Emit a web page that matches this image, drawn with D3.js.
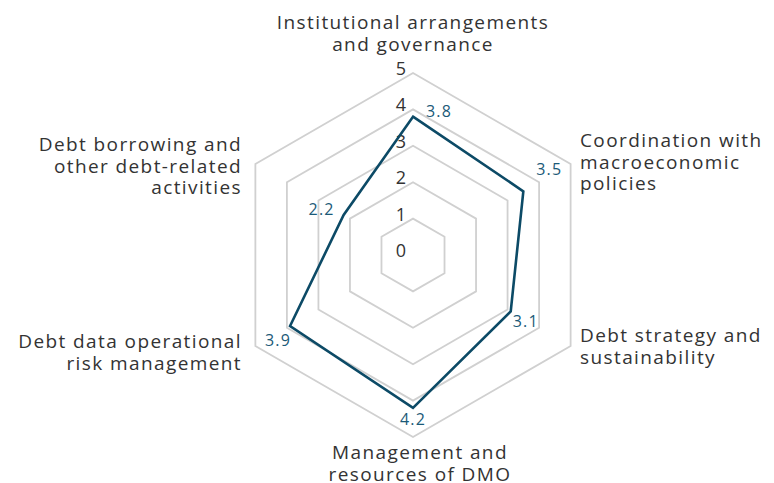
<!DOCTYPE html>
<html>
<head>
<meta charset="utf-8">
<script src="https://cdn.jsdelivr.net/npm/d3@7"></script>
<style>
  body { margin: 0; background: #fff; }
  text { font-family: "Open Sans", sans-serif; }
</style>
</head>
<body>
<div id="radar"></div>
<script>
// chart data
var axes = [
  ["Institutional arrangements", "and governance"],
  ["Coordination with", "macroeconomic", "policies"],
  ["Debt strategy and", "sustainability"],
  ["Management and", "resources of DMO"],
  ["Debt data operational", "risk management"],
  ["Debt borrowing and", "other debt-related", "activities"]
];
var scores = [3.8, 3.5, 3.1, 4.2, 3.9, 2.2];
var levels = [1, 2, 3, 4, 5];
var levelLabels = [0, 1, 2, 3, 4, 5];

// layout
var width = 774, height = 483;
var cx = 413, cy = 255;
var maxR = 182;

var svg = d3
  .select("#radar")
  .append("svg")
  .attr("width", width)
  .attr("height", height);

var g = svg.append("g").attr("transform", "translate(" + cx + "," + cy + ")");

var r = d3.scaleLinear().domain([0, 5]).range([0, maxR]);
var angle = d3
  .scaleLinear()
  .domain([0, axes.length])
  .range([0, 2 * Math.PI]);

function pt(i, v) {
  var a = angle(i);
  return [r(v) * Math.sin(a), -r(v) * Math.cos(a)];
}

// grid hexagons
var line = d3.line().curve(d3.curveLinearClosed);
g.selectAll(".grid")
  .data(levels)
  .enter()
  .append("path")
  .attr("class", "grid")
  .attr("d", function (lv) {
    return line(axes.map(function (a, i) { return pt(i, lv); }));
  })
  .attr("fill", "none")
  .attr("stroke", "#d0d0d0")
  .attr("stroke-width", 1.8);

// level labels on top spoke
g.selectAll(".lvl")
  .data(levelLabels)
  .enter()
  .append("text")
  .attr("class", "lvl")
  .attr("x", -12)
  .attr("y", function (d) { return -r(d) + 2; })
  .attr("text-anchor", "middle")
  .attr("font-size", 18)
  .attr("fill", "#333")
  .text(function (d) { return d; });

// data polygon
g.append("path")
  .attr("d", line(scores.map(function (v, i) { return pt(i, v); })))
  .attr("fill", "none")
  .attr("stroke", "#0c4a66")
  .attr("stroke-width", 2.6)
  .attr("stroke-linejoin", "miter");

// value labels, nudged off the vertex
var valueNudge = [[26, 0], [26, -16], [15, 16], [0, 17], [-12, 20], [-22, 0]];
g.selectAll(".val")
  .data(scores)
  .enter()
  .append("text")
  .attr("class", "val")
  .attr("x", function (d, i) { return pt(i, d)[0] + valueNudge[i][0]; })
  .attr("y", function (d, i) { return pt(i, d)[1] + valueNudge[i][1]; })
  .attr("text-anchor", "middle")
  .attr("font-size", 16)
  .attr("letter-spacing", 1.2)
  .attr("fill", "#1b5a78")
  .text(function (d) { return d.toFixed(1); });

// axis labels
var labelPos = [
  { x: 0, y: -226, anchor: "middle" },
  { x: 167, y: -108, anchor: "start" },
  { x: 167, y: 87, anchor: "start" },
  { x: 7, y: 204, anchor: "middle" },
  { x: -171, y: 93, anchor: "end" },
  { x: -171, y: -104, anchor: "end" }
];
var lineH = 21.5;
axes.forEach(function (lines, i) {
  var t = g.append("text")
    .attr("x", labelPos[i].x)
    .attr("y", labelPos[i].y)
    .attr("text-anchor", labelPos[i].anchor)
    .attr("font-size", 19)
    .attr("letter-spacing", 1.4)
    .attr("fill", "#333");
  lines.forEach(function (s, k) {
    t.append("tspan")
      .attr("x", labelPos[i].x)
      .attr("dy", k === 0 ? 0 : lineH)
      .text(s);
  });
});
</script>
</body>
</html>
